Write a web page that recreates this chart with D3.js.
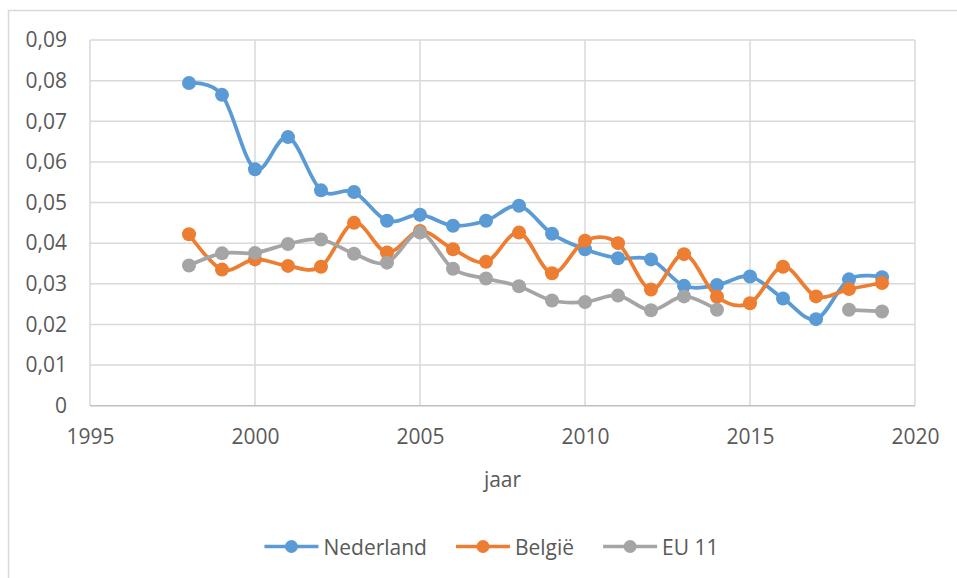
<!DOCTYPE html>
<html>
<head>
<meta charset="utf-8">
<script src="https://cdn.jsdelivr.net/npm/d3@7"></script>
<style>
  html, body { margin: 0; padding: 0; background: #fff; }
  svg text { font-family: "Open Sans", "Noto Sans", sans-serif; fill: #595959; }
</style>
</head>
<body>
<svg id="chart" width="957" height="578"></svg>
<script>
const years = [1998, 1999, 2000, 2001, 2002, 2003, 2004, 2005, 2006, 2007, 2008,
               2009, 2010, 2011, 2012, 2013, 2014, 2015, 2016, 2017, 2018, 2019];
const nederland = [0.0794, 0.0765, 0.0582, 0.0661, 0.0530, 0.0526, 0.0455, 0.0470, 0.0443, 0.0455, 0.0492,
                   0.0423, 0.0385, 0.0363, 0.0360, 0.0295, 0.0297, 0.0318, 0.0264, 0.0213, 0.0311, 0.0316];
const belgie = [0.0422, 0.0335, 0.0360, 0.0344, 0.0342, 0.0450, 0.0377, 0.0430, 0.0385, 0.0354, 0.0426,
                0.0326, 0.0406, 0.0400, 0.0286, 0.0373, 0.0268, 0.0252, 0.0342, 0.0269, 0.0287, 0.0302];
const eu11 = [0.0345, 0.0375, 0.0376, 0.0398, 0.0409, 0.0374, 0.0352, 0.0426, 0.0337, 0.0313, 0.0294,
              0.0259, 0.0255, 0.0271, 0.0235, 0.0269, 0.0236, null, null, null, 0.0236, 0.0232];
const seriesNames = ["Nederland", "België", "EU 11"];
const seriesColors = ["#5B9BD5", "#ED7D31", "#A5A5A5"];
const xTicks = [1995, 2000, 2005, 2010, 2015, 2020];
const yTicks = [0, 0.01, 0.02, 0.03, 0.04, 0.05, 0.06, 0.07, 0.08, 0.09];
const xTitle = "jaar";

const series = [nederland, belgie, eu11].map((vals, i) => ({
  name: seriesNames[i], color: seriesColors[i],
  points: years.map((yr, j) => ({ x: yr, y: vals[j] }))
}));

const svg = d3.select("#chart");
const plot = { left: 90, right: 915, top: 40, bottom: 405.7 };

// outer chart border (extends beyond the visible window on right/bottom)
svg.append("rect").attr("x", 8.5).attr("y", 10.5).attr("width", 1000).attr("height", 1000)
  .attr("fill", "#fff").attr("stroke", "#D9D9D9").attr("stroke-width", 1.5);

const x = d3.scaleLinear().domain([1995, 2020]).range([plot.left, plot.right]);
const y = d3.scaleLinear().domain([0, 0.09]).range([plot.bottom, plot.top]);

// gridlines
const g = svg.append("g");
g.selectAll("line.h").data(yTicks.filter(d => d > 0)).join("line")
  .attr("x1", plot.left).attr("x2", plot.right)
  .attr("y1", d => y(d)).attr("y2", d => y(d))
  .attr("stroke", "#D9D9D9").attr("stroke-width", 1.5);
g.selectAll("line.v").data(xTicks).join("line")
  .attr("x1", d => x(d)).attr("x2", d => x(d))
  .attr("y1", plot.top).attr("y2", plot.bottom)
  .attr("stroke", "#D9D9D9").attr("stroke-width", 1.5);
// x axis line
g.append("line").attr("x1", plot.left).attr("x2", plot.right)
  .attr("y1", plot.bottom).attr("y2", plot.bottom)
  .attr("stroke", "#BFBFBF").attr("stroke-width", 1.5);

const fmtY = d => d === 0 ? "0" : d3.format(".2f")(d).replace(".", ",");

const yAxis = svg.append("g").attr("transform", `translate(${plot.left},0)`)
  .call(d3.axisLeft(y).tickValues(yTicks).tickFormat(fmtY).tickSize(0).tickPadding(23));
yAxis.select(".domain").remove();
yAxis.selectAll("text").style("font-size", "21px").style("font-family", "'Open Sans', sans-serif").attr("fill", "#595959");

const xAxis = svg.append("g").attr("transform", `translate(0,${plot.bottom})`)
  .call(d3.axisBottom(x).tickValues(xTicks).tickFormat(d3.format("d")).tickSize(0).tickPadding(23));
xAxis.select(".domain").remove();
xAxis.selectAll("text").style("font-size", "21px").style("font-family", "'Open Sans', sans-serif").attr("fill", "#595959");

svg.append("text").attr("x", (plot.left + plot.right) / 2).attr("y", 479)
  .attr("text-anchor", "middle").attr("dominant-baseline", "central")
  .style("font-size", "21px").text(xTitle);

// lines
const line = d3.line().defined(d => d.y != null)
  .x(d => x(d.x)).y(d => y(d.y)).curve(d3.curveCardinal.tension(0));

series.forEach(s => {
  svg.append("path").datum(s.points).attr("d", line)
    .attr("fill", "none").attr("stroke", s.color).attr("stroke-width", 3.75)
    .attr("stroke-linejoin", "round").attr("stroke-linecap", "round");
  svg.append("g").selectAll("circle").data(s.points.filter(d => d.y != null)).join("circle")
    .attr("cx", d => x(d.x)).attr("cy", d => y(d.y)).attr("r", 7)
    .attr("fill", s.color);
});

// legend
const legend = svg.append("g");
const items = legend.selectAll("g").data(series).join("g");
items.append("line").attr("x1", 0).attr("x2", 54).attr("y1", 0).attr("y2", 0)
  .attr("stroke", d => d.color).attr("stroke-width", 3.5);
items.append("circle").attr("cx", 27).attr("cy", 0).attr("r", 6.5).attr("fill", d => d.color);
items.append("text").attr("x", 59).attr("y", 0).attr("dominant-baseline", "central")
  .style("font-size", "21px").text(d => d.name);
let widths = [];
items.each(function() { widths.push(this.getBBox().width); });
const gap = 29;
const total = d3.sum(widths) + gap * (widths.length - 1);
let cx = 491.5 - total / 2;
items.attr("transform", (d, i) => {
  const t = `translate(${cx},546.5)`;
  cx += widths[i] + gap;
  return t;
});
</script>
</body>
</html>
